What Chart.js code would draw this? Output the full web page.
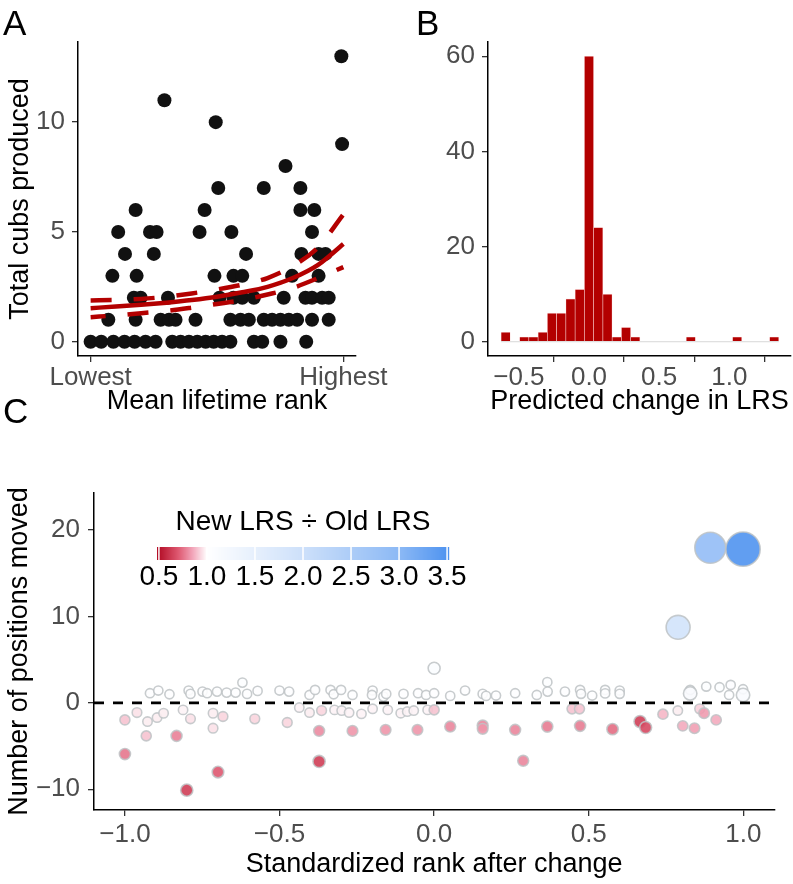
<!DOCTYPE html>
<html><head><meta charset="utf-8">
<script src="https://cdn.jsdelivr.net/npm/chart.js@4.4.1/dist/chart.umd.min.js"></script>
<style>
html,body{margin:0;padding:0;background:#fff;}
#wrap{position:relative;width:793px;height:884px;overflow:hidden;font-family:"Liberation Sans",Arial,sans-serif;}
canvas{position:absolute;}
.lab{position:absolute;font-size:35px;line-height:35px;color:#000;}
</style></head><body>
<div id="wrap">
<canvas id="cA" width="400" height="420" style="left:0;top:0"></canvas>
<canvas id="cB" width="393" height="420" style="left:400px;top:0"></canvas>
<canvas id="cC" width="793" height="454" style="left:0;top:430px"></canvas>
<div class="lab" style="left:3px;top:5px">A</div>
<div class="lab" style="left:416px;top:5px">B</div>
<div class="lab" style="left:3px;top:393px">C</div>
</div>
<script>
// ---------- Panel A data ----------
const rankA = [
  0.0,0.042,0.09,0.134,0.174,0.217,0.257,0.323,0.356,0.389,0.422,0.455,0.487,0.52,0.553,0.646,0.679,0.751,0.853,
  0.07,0.178,0.277,0.31,0.336,0.415,0.553,0.593,0.626,0.685,0.718,0.751,0.784,0.817,0.876,0.942,
  0.171,0.198,0.306,0.51,0.565,0.6,0.646,0.764,0.85,0.876,0.916,0.942,
  0.086,0.182,0.49,0.565,0.6,0.797,0.902,
  0.136,0.25,0.615,0.834,0.902,0.929,
  0.109,0.235,0.261,0.431,0.557,0.876,
  0.178,0.451,0.83,0.885,
  0.505,0.685,0.83,
  0.771,
  0.995,
  0.495,
  0.292,
  0.992
];
const cubsA = [
  0,0,0,0,0,0,0,0,0,0,0,0,0,0,0,0,0,0,0,
  1,1,1,1,1,1,1,1,1,1,1,1,1,1,1,1,
  2,2,2,2,2,2,2,2,2,2,2,2,
  3,3,3,3,3,3,3,
  4,4,4,4,4,4,
  5,5,5,5,5,5,
  6,6,6,6,
  7,7,7,
  8,
  9,
  10,
  11,
  13
];
const fitRank  = [0,0.1,0.2,0.3,0.4,0.5,0.6,0.7,0.8,0.9,1.0];
const fitCubs  = [1.53,1.6,1.68,1.78,1.9,2.05,2.25,2.5,2.9,3.5,4.45];
const fitUpper = [1.88,1.9,1.95,2.05,2.2,2.38,2.6,2.9,3.45,4.3,5.8];
const fitLower = [1.12,1.2,1.3,1.4,1.55,1.72,1.9,2.15,2.45,2.9,3.4];
const tickRankA = [0,1];
const tickLabelsA = ['Lowest','Highest'];
const tickCubsA = [0,5,10];

// ---------- Panel B data ----------
const binCenters = [-0.594,-0.528,-0.462,-0.396,-0.33,-0.264,-0.198,-0.132,-0.066,0,
  0.066,0.132,0.198,0.264,0.33,0.396,0.462,0.528,0.594,0.66,
  0.726,0.792,0.858,0.924,0.99,1.056,1.122,1.188,1.254,1.32];
const binCounts = [2,0,1,1,2,6,6,9,11,60,
  24,10,1,3,1,0,0,0,0,0,
  1,0,0,0,0,1,0,0,0,1];
const tickChangeB = [-0.5,0,0.5,1.0];
const tickCountB = [0,20,40,60];

// ---------- Panel C data ----------
const rankC = [
  -0.919,-0.892,-0.856,-0.794,-0.788,-0.749,-0.734,-0.702,-0.671,-0.642,-0.62,-0.605,-0.571,-0.5,-0.469,-0.403,-0.385,
  -0.335,-0.325,-0.301,-0.264,-0.199,-0.201,-0.164,-0.155,-0.099,-0.052,-0.026,0.0,0.0,0.052,0.1,0.157,0.168,0.2,0.262,0.332,
  0.366,0.367,0.423,0.472,0.475,0.511,0.553,0.553,0.6,0.6,0.828,0.828,0.88,0.923,0.959,0.954,0.999,0.999,
  0.893,0.999,0.789,
  -0.961,-1.0,-0.927,-0.896,-0.875,-0.812,-0.788,-0.715,-0.683,-0.715,-0.58,-0.475,-0.436,-0.403,-0.364,
  -0.372,-0.931,-0.833,-1.0,-0.699,-0.8,-0.372,
  -0.322,-0.299,-0.275,-0.235,-0.199,-0.15,-0.108,-0.087,-0.066,-0.021,0.0,
  -0.264,-0.157,-0.054,0.052,0.157,0.157,0.262,0.366,0.288,
  0.446,0.47,0.472,0.577,0.666,0.684,0.74,0.788,0.804,0.842,0.859,0.873,0.912
];
const movedC = [
  1.12,1.43,1.0,1.43,1.04,1.31,1.12,1.31,1.19,1.19,2.35,1.04,1.39,1.43,1.31,0.92,1.5,
  1.5,1.0,1.5,0.92,1.43,0.92,0.73,1.04,1.04,1.12,0.92,1.12,4.01,0.81,1.43,1.04,0.81,0.85,1.12,0.92,
  2.4,1.31,1.31,1.5,1.05,0.85,1.5,1.1,1.43,1.05,1.5,1.1,1.89,1.81,2.08,0.92,1.58,0.92,
  17.96,17.8,8.75,
  -1.12,-1.97,-2.16,-1.7,-1.2,-0.81,-1.85,-1.2,-1.58,-2.93,-1.85,-2.27,-0.54,-1.12,-0.89,
  -3.24,-3.82,-3.82,-5.93,-8.01,-10.1,-6.78,
  -0.81,-0.89,-1.12,-1.27,-0.69,-0.81,-1.19,-1.0,-0.89,-0.81,-0.81,
  -3.24,-3.12,-3.12,-2.74,-2.62,-3.0,-3.12,-2.74,-6.7,
  -0.69,-0.69,-2.66,-3.04,-2.16,-2.85,-1.31,-0.89,-2.66,-2.93,-0.69,-1.19,-1.97
];
const ratioC = [
  1.03,1.03,1.03,1.03,1.03,1.03,1.03,1.03,1.03,1.03,1.04,1.03,1.03,1.03,1.03,1.02,1.03,
  1.03,1.02,1.03,1.02,1.03,1.02,1.02,1.02,1.02,1.03,1.02,1.03,1.08,1.02,1.03,1.02,1.02,1.02,1.03,1.02,
  1.04,1.03,1.03,1.03,1.02,1.02,1.03,1.02,1.03,1.02,1.03,1.12,1.04,1.04,1.05,1.02,1.04,1.12,
  2.9,3.5,1.9,
  0.95,0.9,0.97,0.97,0.97,0.98,0.95,0.97,0.93,0.95,0.93,0.93,0.98,0.97,0.93,
  0.8,0.9,0.78,0.76,0.7,0.63,0.63,
  0.98,0.98,0.98,0.98,0.98,0.98,0.98,0.98,0.98,0.98,0.9,
  0.82,0.82,0.82,0.79,0.79,0.82,0.79,0.77,0.79,
  0.9,0.9,0.77,0.74,0.63,0.66,0.88,0.97,0.86,0.84,0.92,0.83,0.86
];
const tickRankC = [-1,-0.5,0,0.5,1];
const tickMovedC = [-10,0,10,20];
const legendBreaks = [0.5,1.0,1.5,2.0,2.5,3.0,3.5];

// ---------- styling helpers ----------
const FAM = '"Liberation Sans", Arial, sans-serif';
const TICKCOL = '#4d4d4d';
const RED = '#b30000';
const TICKSIZE = 26, TITLESIZE = 27;
const stops = [
  [0.5,[180,15,40]],[0.7,[222,88,112]],[0.85,[242,165,185]],[1.0,[255,255,255]],
  [2.0,[205,224,250]],[3.0,[140,185,245]],[3.5,[80,148,240]]
];
function ratioRGB(r){
  if (r <= stops[0][0]) return stops[0][1];
  for (let i=1;i<stops.length;i++){
    if (r <= stops[i][0]){
      const [a,ca]=stops[i-1],[b,cb]=stops[i];
      const t=(r-a)/(b-a);
      return ca.map((v,k)=>Math.round(v+(cb[k]-v)*t));
    }
  }
  return stops[stops.length-1][1];
}
function ratioColor(r,al){const c=ratioRGB(r);return `rgba(${c[0]},${c[1]},${c[2]},${al})`;}
function ratioRadius(r){ return r>=1 ? 4.6+8*Math.sqrt(Math.max(0,r-1.05)) : 4.6+4*(1-r); }
const fmtMinus = v => (v<0?'\u2212':'') + Math.abs(v);
const fmt1 = v => (v<0?'\u2212':'') + Math.abs(v).toFixed(1);

function axisBase(){
  return {
    grid:{drawOnChartArea:false,drawTicks:true,tickLength:6,color:'#333',lineWidth:1.3},
    border:{display:true,color:'#000',width:1.5},
  };
}
Chart.defaults.font.family = FAM;
Chart.defaults.animation = false;

// ---------- Chart A ----------
const lineOpts = {showLine:true,borderColor:RED,borderWidth:4.5,pointRadius:0,fill:false,cubicInterpolationMode:'monotone'};
new Chart(document.getElementById('cA'), {
  type:'scatter',
  data:{datasets:[
    Object.assign({data:fitRank.map((x,i)=>({x,y:fitUpper[i]})),borderDash:[21,22]},lineOpts),
    Object.assign({data:fitRank.map((x,i)=>({x,y:fitLower[i]})),borderDash:[21,22],borderDashOffset:6},lineOpts),
    Object.assign({data:fitRank.map((x,i)=>({x,y:fitCubs[i]}))},lineOpts),
    {data:rankA.map((x,i)=>({x,y:cubsA[i]})),pointRadius:7,pointBackgroundColor:'#111',pointBorderColor:'#111',pointBorderWidth:0}
  ]},
  options:{
    responsive:false,animation:false,
    layout:{padding:{top:42,right:44,bottom:0,left:0}},
    plugins:{legend:{display:false},tooltip:{enabled:false}},
    scales:{
      x:Object.assign(axisBase(),{type:'linear',min:-0.05,max:1.05,
        afterBuildTicks:s=>{s.ticks=tickRankA.map(v=>({value:v}));},
        ticks:{callback:(v,i)=>tickLabelsA[i],color:TICKCOL,font:{size:TICKSIZE},padding:0,maxRotation:0,autoSkip:false},
        title:{display:true,text:'Mean lifetime rank',color:'#000',font:{size:TITLESIZE},padding:{top:0,bottom:2}},
        afterFit:s=>{s.height=64;}}),
      y:Object.assign(axisBase(),{type:'linear',min:-0.65,max:13.65,
        afterBuildTicks:s=>{s.ticks=tickCubsA.map(v=>({value:v}));},
        ticks:{callback:v=>fmtMinus(v),color:TICKCOL,font:{size:TICKSIZE},padding:7},
        title:{display:true,text:'Total cubs produced',color:'#000',font:{size:TITLESIZE},padding:{top:4,bottom:0}},
        afterFit:s=>{s.width=78;}})
    }
  }
});

// ---------- Chart B ----------
const binW = binCenters[1]-binCenters[0];
new Chart(document.getElementById('cB'), {
  type:'bar',
  data:{datasets:[
    {type:'bar',data:binCenters.map((x,i)=>({x,y:binCounts[i]})),backgroundColor:RED,borderColor:'rgba(255,200,200,0.45)',borderWidth:0.6,barPercentage:1,categoryPercentage:1,order:1},
    {type:'line',data:[{x:binCenters[0]-binW/2,y:0},{x:binCenters[binCenters.length-1]+binW/2,y:0}],borderColor:'rgba(205,205,205,0.8)',borderWidth:1,pointRadius:0,order:2}
  ]},
  options:{
    responsive:false,animation:false,
    layout:{padding:{top:42,right:2,bottom:0,left:0}},
    plugins:{legend:{display:false},tooltip:{enabled:false}},
    scales:{
      x:Object.assign(axisBase(),{type:'linear',min:-0.72,max:1.44,offset:false,
        afterBuildTicks:s=>{s.ticks=tickChangeB.map(v=>({value:v}));},
        ticks:{callback:v=>fmt1(v),color:TICKCOL,font:{size:TICKSIZE},padding:0,maxRotation:0,autoSkip:false},
        title:{display:true,text:'Predicted change in LRS',color:'#000',font:{size:TITLESIZE},padding:{top:0,bottom:2}},
        afterFit:s=>{s.height=64;}}),
      y:Object.assign(axisBase(),{type:'linear',min:-3,max:63,
        afterBuildTicks:s=>{s.ticks=tickCountB.map(v=>({value:v}));},
        ticks:{callback:v=>fmtMinus(v),color:TICKCOL,font:{size:TICKSIZE},padding:7},
        afterFit:s=>{s.width=88;}})
    }
  }
});

// ---------- Chart C ----------
const legendPlugin = {
  id:'ratioLegend',
  afterDraw(chart){
    const ctx=chart.ctx;
    const x0=157,x1=449,y0=117,h=13,v0=0.48,v1=3.52;
    const vx=v=>x0+(v-v0)/(v1-v0)*(x1-x0);
    ctx.save();
    for(let px=x0;px<x1;px++){
      const v=v0+(px+0.5-x0)/(x1-x0)*(v1-v0);
      ctx.fillStyle=ratioColor(v,1);
      ctx.fillRect(px,y0,1.2,h);
    }
    ctx.strokeStyle='#fff';ctx.lineWidth=1.5;
    legendBreaks.forEach(b=>{const px=vx(b);ctx.beginPath();ctx.moveTo(px,y0);ctx.lineTo(px,y0+h);ctx.stroke();});
    ctx.fillStyle='#000';ctx.textAlign='center';ctx.textBaseline='middle';
    ctx.font='28px '+FAM;
    ctx.fillText('New LRS \u00F7 Old LRS',303,92);
    legendBreaks.forEach(b=>ctx.fillText(b.toFixed(1),vx(b),147));
    ctx.restore();
  }
};
new Chart(document.getElementById('cC'), {
  type:'scatter',
  data:{datasets:[
    {data:[{x:-1.1,y:0},{x:1.1,y:0}],showLine:true,borderColor:'#000',borderWidth:2.6,borderDash:[10,9],pointRadius:0,fill:false},
    {data:rankC.map((x,i)=>({x,y:movedC[i]})),
     pointRadius:ratioC.map(ratioRadius),pointHoverRadius:ratioC.map(ratioRadius),
     pointBackgroundColor:ratioC.map(r=>ratioColor(r,0.9)),
     pointBorderColor:'rgba(190,195,198,0.85)',pointBorderWidth:1.6}
  ]},
  plugins:[legendPlugin],
  options:{
    responsive:false,animation:false,
    layout:{padding:{top:63,right:2,bottom:0,left:0}},
    plugins:{legend:{display:false},tooltip:{enabled:false}},
    scales:{
      x:Object.assign(axisBase(),{type:'linear',min:-1.1,max:1.1,
        afterBuildTicks:s=>{s.ticks=tickRankC.map(v=>({value:v}));},
        ticks:{callback:v=>fmt1(v),color:TICKCOL,font:{size:TICKSIZE},padding:3,maxRotation:0,autoSkip:false},
        title:{display:true,text:'Standardized rank after change',color:'#000',font:{size:TITLESIZE},padding:{top:0,bottom:3}},
        afterFit:s=>{s.height=74;}}),
      y:Object.assign(axisBase(),{type:'linear',min:-12.4,max:24.3,
        afterBuildTicks:s=>{s.ticks=tickMovedC.map(v=>({value:v}));},
        ticks:{callback:v=>fmtMinus(v),color:TICKCOL,font:{size:TICKSIZE},padding:8},
        title:{display:true,text:'Number of positions moved',color:'#000',font:{size:TITLESIZE},padding:{top:3,bottom:0}},
        afterFit:s=>{s.width=94;}})
    }
  }
});
</script>
</body></html>
